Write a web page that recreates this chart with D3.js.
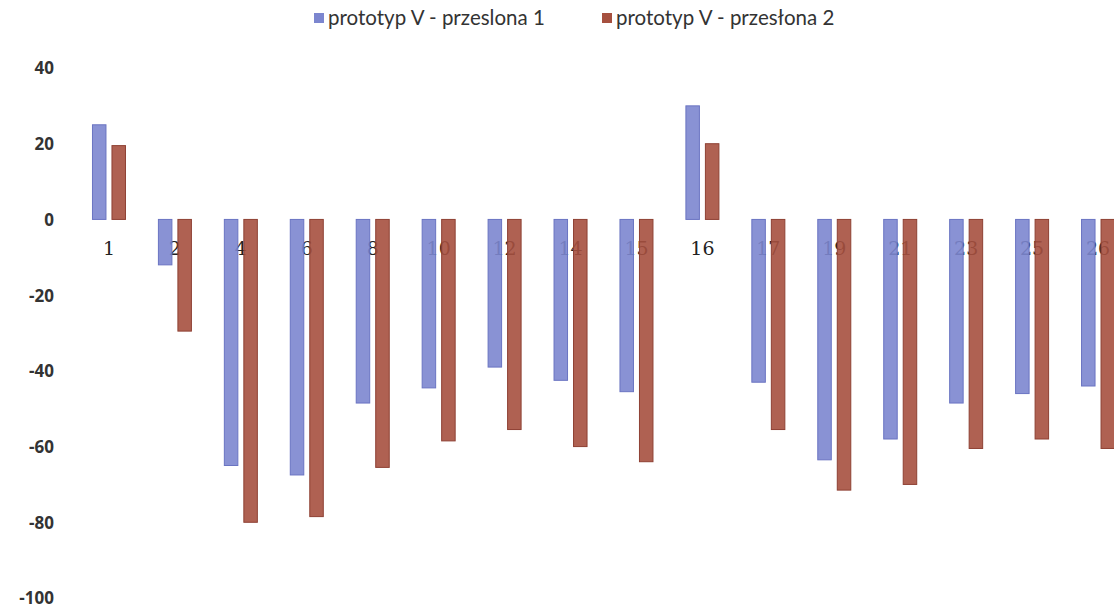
<!DOCTYPE html>
<html>
<head>
<meta charset="utf-8">
<script src="https://cdn.jsdelivr.net/npm/d3@7"></script>
<style>
  body { margin: 0; background: #fff; }
  svg { display: block; }
</style>
</head>
<body>
<div id="chart"></div>
<script>
// data
const categories = ["1", "2", "4", "6", "8", "10", "12", "14", "15", "16", "17", "19", "21", "23", "25", "26"];
const seriesNames = ["prototyp V - przeslona 1", "prototyp V - przesłona 2"];
const przeslona1 = [25, -12, -65, -67.5, -48.5, -44.5, -39, -42.5, -45.5, 30, -43, -63.5, -58, -48.5, -46, -44];
const przeslona2 = [19.5, -29.5, -80, -78.5, -65.5, -58.5, -55.5, -60, -64, 20, -55.5, -71.5, -70, -60.5, -58, -60.5];
const yTicks = [40, 20, 0, -20, -40, -60, -80, -100];
const colours = ["#7c86cf", "#a6503f"];
const strokes = ["#6a74c2", "#8e4033"];

const width = 1114, height = 613;

const rows = categories.map((c, i) => ({ cat: c, values: [przeslona1[i], przeslona2[i]] }));

const svg = d3.select("#chart").append("svg")
	.attr("width", width)
	.attr("height", height);

// scales
const y = d3.scaleLinear()
	.domain([-100, 40])
	.range([598, 68]);

const x = d3.scaleBand()
	.domain(categories)
	.range([76, 1131])
	.padding(0);

const x1 = d3.scaleBand()
	.domain([0, 1])
	.range([-16.5, 16.5])
	.paddingInner(0.3077);

// y axis, no line, just labels (plain hyphen like the original)
svg.append("g")
	.attr("transform", "translate(54,0)")
	.call(d3.axisLeft(y).tickValues(yTicks).tickSize(0).tickPadding(0).tickFormat(d => String(d)))
	.call(g => g.select(".domain").remove())
	.selectAll("text")
	.attr("font-family", "'Open Sans', sans-serif")
	.attr("font-weight", "bold")
	.attr("font-size", 17)
	.attr("fill", "#333")
	.attr("dy", "0.35em");

// category labels sit under the bars
svg.append("g")
	.attr("transform", `translate(0, ${y(0)})`)
	.call(d3.axisBottom(x).tickSize(0).tickPadding(22))
	.call(g => g.select(".domain").remove())
	.selectAll("text")
	.attr("font-family", "'DejaVu Serif', serif")
	.attr("font-size", 19)
	.attr("fill", "#222");

// bars
const groups = svg.append("g")
	.selectAll("g")
	.data(rows)
	.join("g")
	.attr("transform", d => `translate(${x(d.cat) + x.bandwidth() / 2}, 0)`);

groups.selectAll("rect")
	.data(d => d.values.map((v, k) => ({ k: k, v: v })))
	.join("rect")
	.attr("x", d => x1(d.k))
	.attr("width", x1.bandwidth())
	.attr("y", d => y(Math.max(0, d.v)))
	.attr("height", d => Math.abs(y(d.v) - y(0)))
	.attr("fill", d => colours[d.k])
	.attr("fill-opacity", 0.9)
	.attr("stroke", d => strokes[d.k])
	.attr("stroke-width", 1);

// legend
const legendX = [314, 602];
const legend = svg.append("g")
	.selectAll("g")
	.data(seriesNames)
	.join("g")
	.attr("transform", (d, i) => `translate(${legendX[i]}, 18)`);

legend.append("rect")
	.attr("x", 0)
	.attr("y", -5)
	.attr("width", 10)
	.attr("height", 10)
	.attr("fill", (d, i) => colours[i]);

legend.append("text")
	.attr("x", 14)
	.attr("dy", "0.35em")
	.attr("font-family", "Lato, sans-serif")
	.attr("font-size", 20.5)
	.attr("fill", "#333")
	.text(d => d);
</script>
</body>
</html>
